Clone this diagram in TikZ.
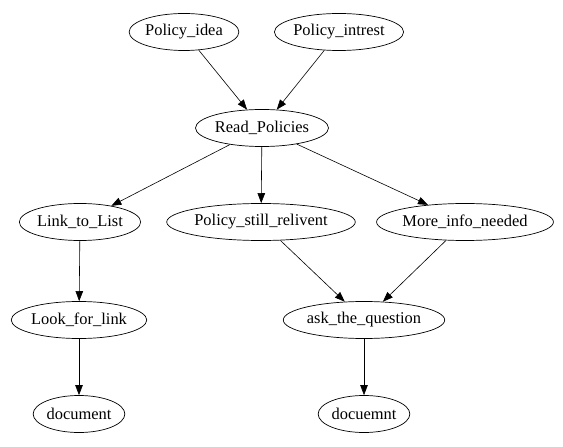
\documentclass[tikz,border=0pt]{standalone}
\usepackage{fontspec}
\setmainfont{Liberation Serif}
\usetikzlibrary{shapes.geometric,arrows.meta}
\tikzset{
  state/.style={ellipse, draw, line width=0.7bp, minimum height=37bp, inner xsep=0pt, inner ysep=0pt, font=\fontsize{16.5}{18}\selectfont},
  flow/.style={line width=0.6bp, -{Triangle[length=10bp,width=7.5bp]}}
}
\begin{document}
\begin{tikzpicture}[x=1bp,y=-1bp]
  \useasboundingbox (0,0) rectangle (563,447);
  \node[state] (idea) at (184,32) {Policy\_idea};
  \node[state] (intrest) at (339,32) {Policy\_intrest};
  \node[state] (read) at (262,128) {Read\_Policies};
  \node[state] (list) at (80,222) {Link\_to\_List};
  \node[state] (still) at (261,222) {Policy\_still\_relivent};
  \node[state] (more) at (465,222) {More\_info\_needed};
  \node[state] (look) at (79,320) {Look\_for\_link};
  \node[state] (ask) at (364,320) {ask\_the\_question};
  \node[state] (doc) at (79,414) {document};
  \node[state] (docu) at (364,414) {docuemnt};

  \draw[flow] (idea) -- (read);
  \draw[flow] (intrest) -- (read);
  \draw[flow] (read) -- (list);
  \draw[flow] (read) -- (still);
  \draw[flow] (read) -- (more);
  \draw[flow] (list) -- (look);
  \draw[flow] (look) -- (doc);
  \draw[flow] (still) -- (ask);
  \draw[flow] (more) -- (ask);
  \draw[flow] (ask) -- (docu);
\end{tikzpicture}
\end{document}
